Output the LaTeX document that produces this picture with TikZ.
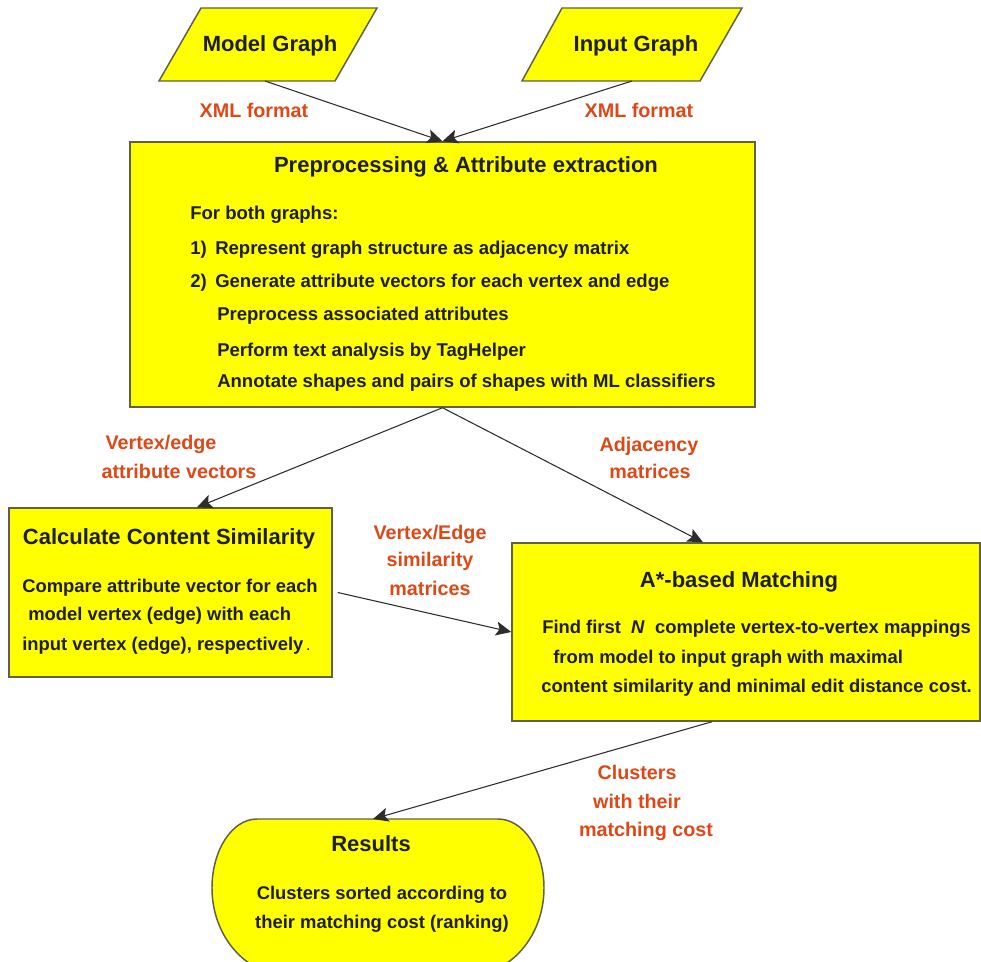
\documentclass[tikz,border=0pt]{standalone}
\usepackage{fontspec}
\setmainfont{Liberation Sans}
\usetikzlibrary{arrows.meta,calc}
\definecolor{boxyellow}{RGB}{255,255,0}
\definecolor{boxedge}{RGB}{95,95,75}
\definecolor{lblorange}{RGB}{222,72,22}
\definecolor{txtc}{RGB}{30,30,30}
\definecolor{arrowc}{RGB}{45,45,45}
\tikzset{
  shapebox/.style={draw=boxedge, fill=boxyellow, line width=1.1pt},
  rectbox/.style={shapebox, rectangle, inner sep=0pt},
  conn/.style={draw=arrowc, line width=0.8pt, -{Stealth[length=11.5pt,width=10.5pt,inset=2.5pt]}},
  txtbase/.style={inner sep=0pt, text=txtc, font=\bfseries, text height=0.72em, text depth=0.2em, yshift=-2pt},
  titletxt/.style={txtbase, font=\bfseries\fontsize{16.5}{19}\selectfont},
  bodytxt/.style={txtbase, anchor=west, font=\bfseries\fontsize{13.9}{16}\selectfont},
  bodysm/.style={txtbase, anchor=west, font=\bfseries\fontsize{13.8}{16}\selectfont},
  restxt/.style={txtbase, font=\bfseries\fontsize{13.8}{16}\selectfont},
  lbltxt/.style={inner sep=0pt, text=lblorange, font=\bfseries\fontsize{14.8}{17}\selectfont, text height=0.72em, text depth=0.2em, yshift=-2pt},
}
\begin{document}
\begin{tikzpicture}[x=0.75pt,y=-0.75pt]
\useasboundingbox (0,0) rectangle (981,962);
\clip (0,0) rectangle (981,962);

% input parallelograms
\draw[shapebox] (201,8) -- (377,8) -- (335,81) -- (159,81) -- cycle;
\node[titletxt] (model) at (270,45) {Model Graph};
\coordinate (modelout) at (265,81);
\draw[shapebox] (562,8) -- (742,8) -- (700,81) -- (522,81) -- cycle;
\node[titletxt] (input) at (636,45) {Input Graph};
\coordinate (inputout) at (632,81);

% preprocessing box
\node[rectbox, minimum width={625*0.75pt}, minimum height={265*0.75pt}] (prep) at (442.5,274.5) {};
\node[titletxt] (preptitle) at (466,166) {Preprocessing \& Attribute extraction};
\node[bodytxt] (p0) at (190,213) {For both graphs:};
\node[bodytxt] (p1n) at (190,248) {1)};
\node[bodytxt] (p1) at (215,248) {Represent graph structure as adjacency matrix};
\node[bodytxt] (p2n) at (190,281) {2)};
\node[bodytxt] (p2) at (215,281) {Generate attribute vectors for each vertex and edge};
\node[bodytxt] (p3) at (217,314) {Preprocess associated attributes};
\node[bodytxt] (p4) at (217,350) {Perform text analysis by TagHelper};
\node[bodytxt] (p5) at (217,381) {Annotate shapes and pairs of shapes with ML classifiers};

\draw[conn] (modelout) -- (prep.north);
\draw[conn] (inputout) -- (prep.north);
\node[lbltxt] (xml1) at (254,111) {XML format};
\node[lbltxt] (xml2) at (639,111) {XML format};

% calc box
\node[rectbox, minimum width={323*0.75pt}, minimum height={169*0.75pt}] (calc) at (170.5,592.5) {};
\node[titletxt] (calctitle) at (169,538) {Calculate Content Similarity};
\node[bodysm] (c1) at (22,586) {Compare attribute vector for each};
\node[bodysm] (c2) at (28,614) {model vertex (edge) with each};
\node[bodysm] (c3) at (22,644) {input vertex (edge), respectively\,{\fontsize{9}{10}\selectfont .}};

% A* box
\node[rectbox, minimum width={468*0.75pt}, minimum height={178*0.75pt}] (astar) at (746,632) {};
\node[titletxt] (astartitle) at (739,581) {A*-based Matching};
\node[bodysm] (a1) at (542,627) {Find first \ \textit{N}\ \ complete vertex-to-vertex mappings};
\node[bodysm] (a2) at (553,657) {from model to input graph with maximal};
\node[bodysm] (a3) at (541,686) {content similarity and minimal edit distance cost.};

\draw[conn] (prep.south) -- ([xshift={26.5*0.75pt}]calc.north);
\draw[conn] (prep.south) -- ([xshift={-43*0.75pt}]astar.north);
\draw[conn] ([xshift={5*0.75pt}]calc.east) -- (astar.west);

\node[lbltxt] (ve1) at (161,443) {Vertex/edge};
\node[lbltxt] (ve2) at (179,472) {attribute vectors};
\node[lbltxt] (adj1) at (649,445) {Adjacency};
\node[lbltxt] (adj2) at (650,472) {matrices};
\node[lbltxt] (sim1) at (430,533) {Vertex/Edge};
\node[lbltxt] (sim2) at (430,560) {similarity};
\node[lbltxt] (sim3) at (430,589) {matrices};

% results
\draw[shapebox] (257,819) -- (498,819)
  .. controls (523.4,819) and (544,849.9) .. (544,888)
  .. controls (544,936) and (510.4,975) .. (469,975)
  -- (287,975)
  .. controls (245.6,975) and (212,936) .. (212,888)
  .. controls (212,849.9) and (232.2,819) .. (257,819) -- cycle;
\coordinate (restop) at (373,819);
\node[titletxt] (res) at (371,845) {Results};
\node[restxt] (r1) at (382,893) {Clusters sorted according to};
\node[restxt] (r2) at (382,922) {their matching cost (ranking)};

\draw[conn] ([xshift={-34*0.75pt}]astar.south) -- (restop);
\node[lbltxt] (cl1) at (637,773) {Clusters};
\node[lbltxt] (cl2) at (637,802) {with their};
\node[lbltxt] (cl3) at (646,830) {matching cost};
\end{tikzpicture}
\end{document}
